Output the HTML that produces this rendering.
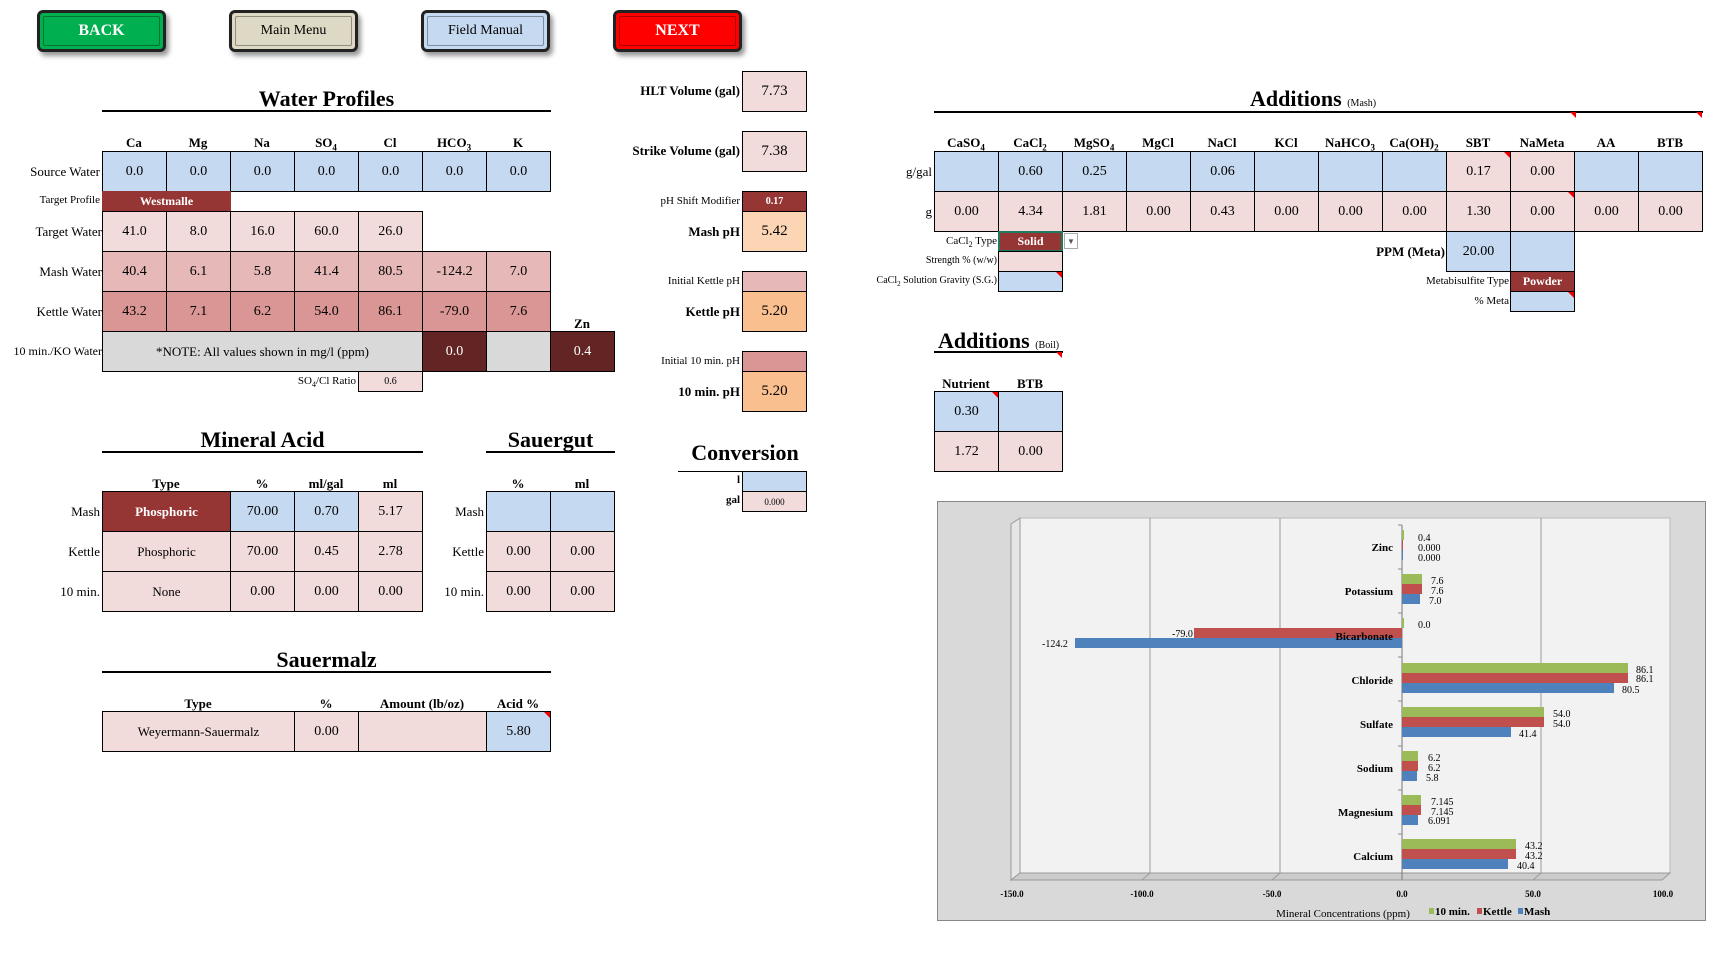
<!DOCTYPE html>
<html><head><meta charset="utf-8"><style>
body{margin:0;width:1730px;height:957px;background:#fff;position:relative;overflow:hidden;font-family:"Liberation Serif",serif;}
div{position:absolute;box-sizing:border-box;}
.c{border:1px solid #000;display:flex;align-items:center;justify-content:center;font-size:14px;width:65px;height:41px;}
.s{height:21px;font-size:11px;}
.b{background:#c5d9f1}.p{background:#f2dcdb}.m{background:#e6b8b7}.k{background:#da9694}.d{background:#963634;color:#fff;font-weight:bold}.dd{background:#632523;color:#fff}.g{background:#d9d9d9}.pe{background:#fcd5b4}.o{background:#fabf8f}
.h{font-weight:bold;font-size:13px;text-align:center;width:64px;}
.l{text-align:right;font-size:13px;white-space:nowrap;}
.t{font-size:22px;font-weight:bold;text-align:center;white-space:nowrap;}
.u{height:2px;background:#000;}
.btn{border:3px solid #222;border-radius:6px;box-shadow:3px 4px 5px #999;display:flex;align-items:center;justify-content:center;font-size:14px;width:129px;height:42px;}
.btn span{border:1px solid rgba(0,0,0,.35);position:absolute;left:3px;right:3px;top:3px;bottom:3px;border-radius:2px;}
.tri{width:0;height:0;border-top:6px solid #e00;border-left:6px solid transparent;}
</style></head><body>

<div class="btn" style="left:37px;top:10px;background:#00b050;color:#fff;font-weight:bold;font-size:16px"><span></span>BACK</div>
<div class="btn" style="left:229px;top:10px;background:#ddd9c4">Main Menu<span></span></div>
<div class="btn" style="left:421px;top:10px;background:#c5d9f1">Field Manual<span></span></div>
<div class="btn" style="left:613px;top:10px;background:#ff0000;color:#fff;font-weight:bold;font-size:16px">NEXT<span></span></div>

<div class="t" style="left:102px;width:449px;top:86px">Water Profiles</div>
<div class="u" style="left:102px;width:449px;top:110px"></div>
<div class="h" style="left:102px;top:135px">Ca</div><div class="h" style="left:166px;top:135px">Mg</div><div class="h" style="left:230px;top:135px">Na</div><div class="h" style="left:294px;top:135px">SO<sub style="font-size:9px">4</sub></div><div class="h" style="left:358px;top:135px">Cl</div><div class="h" style="left:422px;top:135px">HCO<sub style="font-size:9px">3</sub></div><div class="h" style="left:486px;top:135px">K</div>
<div class="l" style="right:1630px;top:164px">Source Water</div>
<div class="c b" style="left:102px;top:151px">0.0</div><div class="c b" style="left:166px;top:151px">0.0</div><div class="c b" style="left:230px;top:151px">0.0</div><div class="c b" style="left:294px;top:151px">0.0</div><div class="c b" style="left:358px;top:151px">0.0</div><div class="c b" style="left:422px;top:151px">0.0</div><div class="c b" style="left:486px;top:151px">0.0</div>
<div class="l" style="right:1630px;top:194px;font-size:11px">Target Profile</div>
<div class="c d s" style="left:102px;top:191px;width:129px;border:none;font-size:12px">Westmalle</div>
<div class="l" style="right:1628px;top:224px">Target Water</div>
<div class="c p" style="left:102px;top:211px">41.0</div><div class="c p" style="left:166px;top:211px">8.0</div><div class="c p" style="left:230px;top:211px">16.0</div><div class="c p" style="left:294px;top:211px">60.0</div><div class="c p" style="left:358px;top:211px">26.0</div>
<div class="l" style="right:1628px;top:264px">Mash Water</div>
<div class="c m" style="left:102px;top:251px">40.4</div><div class="c m" style="left:166px;top:251px">6.1</div><div class="c m" style="left:230px;top:251px">5.8</div><div class="c m" style="left:294px;top:251px">41.4</div><div class="c m" style="left:358px;top:251px">80.5</div><div class="c m" style="left:422px;top:251px">-124.2</div><div class="c m" style="left:486px;top:251px">7.0</div>
<div class="l" style="right:1628px;top:304px">Kettle Water</div>
<div class="c k" style="left:102px;top:291px">43.2</div><div class="c k" style="left:166px;top:291px">7.1</div><div class="c k" style="left:230px;top:291px">6.2</div><div class="c k" style="left:294px;top:291px">54.0</div><div class="c k" style="left:358px;top:291px">86.1</div><div class="c k" style="left:422px;top:291px">-79.0</div><div class="c k" style="left:486px;top:291px">7.6</div>
<div class="h" style="left:550px;top:316px">Zn</div>
<div class="l" style="right:1628px;top:344px;font-size:12px">10 min./KO Water</div>
<div class="c g" style="left:102px;top:331px;width:321px;font-size:13px">*NOTE: All values shown in mg/l (ppm)</div>
<div class="c dd" style="left:422px;top:331px">0.0</div><div class="c g" style="left:486px;top:331px">&nbsp;</div><div class="c dd" style="left:550px;top:331px">0.4</div>
<div class="l" style="right:1374px;top:375px;font-size:11px">SO<sub style="font-size:8px">4</sub>/Cl Ratio</div>
<div class="c p s" style="left:358px;top:371px;font-size:10px">0.6</div>

<div class="l" style="right:990px;top:83px;font-weight:bold">HLT Volume (gal)</div>
<div class="c p" style="left:742px;top:71px;font-size:15px">7.73</div>
<div class="l" style="right:990px;top:143px;font-weight:bold">Strike Volume (gal)</div>
<div class="c p" style="left:742px;top:131px;font-size:15px">7.38</div>
<div class="l" style="right:990px;top:195px;font-size:11px">pH Shift Modifier</div>
<div class="c d s" style="left:742px;top:191px;font-size:10px">0.17</div>
<div class="l" style="right:990px;top:224px;font-weight:bold">Mash pH</div>
<div class="c pe" style="left:742px;top:211px;font-size:15px">5.42</div>
<div class="l" style="right:990px;top:275px;font-size:11px">Initial Kettle pH</div>
<div class="c m s" style="left:742px;top:271px"></div>
<div class="l" style="right:990px;top:304px;font-weight:bold">Kettle pH</div>
<div class="c o" style="left:742px;top:291px;font-size:15px">5.20</div>
<div class="l" style="right:990px;top:355px;font-size:11px">Initial 10 min. pH</div>
<div class="c k s" style="left:742px;top:351px"></div>
<div class="l" style="right:990px;top:384px;font-weight:bold">10 min. pH</div>
<div class="c o" style="left:742px;top:371px;font-size:15px">5.20</div>

<div class="t" style="left:102px;width:321px;top:427px">Mineral Acid</div>
<div class="u" style="left:102px;width:321px;top:451px"></div>
<div class="h" style="left:134px;top:476px">Type</div><div class="h" style="left:230px;top:476px">%</div><div class="h" style="left:294px;top:476px">ml/gal</div><div class="h" style="left:358px;top:476px">ml</div>
<div class="l" style="right:1630px;top:504px">Mash</div><div class="l" style="right:1630px;top:544px">Kettle</div><div class="l" style="right:1630px;top:584px">10 min.</div>
<div class="c d" style="left:102px;top:491px;width:129px;font-size:13px">Phosphoric</div><div class="c b" style="left:230px;top:491px">70.00</div><div class="c b" style="left:294px;top:491px">0.70</div><div class="c p" style="left:358px;top:491px">5.17</div>
<div class="c p" style="left:102px;top:531px;width:129px;font-size:13px">Phosphoric</div><div class="c p" style="left:230px;top:531px">70.00</div><div class="c p" style="left:294px;top:531px">0.45</div><div class="c p" style="left:358px;top:531px">2.78</div>
<div class="c p" style="left:102px;top:571px;width:129px;font-size:13px">None</div><div class="c p" style="left:230px;top:571px">0.00</div><div class="c p" style="left:294px;top:571px">0.00</div><div class="c p" style="left:358px;top:571px">0.00</div>

<div class="t" style="left:486px;width:129px;top:427px">Sauergut</div>
<div class="u" style="left:486px;width:129px;top:451px"></div>
<div class="h" style="left:486px;top:476px">%</div><div class="h" style="left:550px;top:476px">ml</div>
<div class="l" style="right:1246px;top:504px">Mash</div><div class="l" style="right:1246px;top:544px">Kettle</div><div class="l" style="right:1246px;top:584px">10 min.</div>
<div class="c b" style="left:486px;top:491px"></div><div class="c b" style="left:550px;top:491px"></div>
<div class="c p" style="left:486px;top:531px">0.00</div><div class="c p" style="left:550px;top:531px">0.00</div>
<div class="c p" style="left:486px;top:571px">0.00</div><div class="c p" style="left:550px;top:571px">0.00</div>

<div class="t" style="left:670px;width:150px;top:440px">Conversion</div>
<div class="u" style="left:678px;width:65px;top:471px;height:1px"></div>
<div class="l" style="right:990px;top:474px;font-size:11px;font-weight:bold">l</div>
<div class="l" style="right:990px;top:494px;font-size:11px;font-weight:bold">gal</div>
<div class="c b s" style="left:742px;top:471px"></div>
<div class="c p s" style="left:742px;top:491px;font-size:9px">0.000</div>

<div class="t" style="left:102px;width:449px;top:647px">Sauermalz</div>
<div class="u" style="left:102px;width:449px;top:671px"></div>
<div class="h" style="left:166px;top:696px">Type</div><div class="h" style="left:294px;top:696px">%</div><div class="h" style="left:358px;top:696px;width:128px">Amount (lb/oz)</div><div class="h" style="left:486px;top:696px">Acid %</div>
<div class="c p" style="left:102px;top:711px;width:193px;font-size:13px">Weyermann-Sauermalz</div><div class="c p" style="left:294px;top:711px">0.00</div><div class="c p" style="left:358px;top:711px;width:129px"></div><div class="c b" style="left:486px;top:711px">5.80</div>
<div class="tri" style="left:544px;top:712px"></div>

<div class="t" style="left:1250px;top:86px;text-align:left">Additions <span style="font-size:10px;font-weight:normal">(Mash)</span></div>
<div class="u" style="left:934px;width:769px;top:111px"></div>
<div class="tri" style="left:1570px;top:112px"></div><div class="tri" style="left:1696px;top:112px"></div>
<div class="h" style="left:934px;top:135px">CaSO<sub style="font-size:9px">4</sub></div><div class="h" style="left:998px;top:135px">CaCl<sub style="font-size:9px">2</sub></div><div class="h" style="left:1062px;top:135px">MgSO<sub style="font-size:9px">4</sub></div><div class="h" style="left:1126px;top:135px">MgCl</div><div class="h" style="left:1190px;top:135px">NaCl</div><div class="h" style="left:1254px;top:135px">KCl</div><div class="h" style="left:1318px;top:135px">NaHCO<sub style="font-size:9px">3</sub></div><div class="h" style="left:1382px;top:135px">Ca(OH)<sub style="font-size:9px">2</sub></div><div class="h" style="left:1446px;top:135px">SBT</div><div class="h" style="left:1510px;top:135px">NaMeta</div><div class="h" style="left:1574px;top:135px">AA</div><div class="h" style="left:1638px;top:135px">BTB</div>
<div class="l" style="right:798px;top:164px">g/gal</div>
<div class="c b" style="left:934px;top:151px"></div><div class="c b" style="left:998px;top:151px">0.60</div><div class="c b" style="left:1062px;top:151px">0.25</div><div class="c b" style="left:1126px;top:151px"></div><div class="c b" style="left:1190px;top:151px">0.06</div><div class="c b" style="left:1254px;top:151px"></div><div class="c b" style="left:1318px;top:151px"></div><div class="c b" style="left:1382px;top:151px"></div><div class="c p" style="left:1446px;top:151px">0.17</div><div class="c p" style="left:1510px;top:151px">0.00</div><div class="c b" style="left:1574px;top:151px"></div><div class="c b" style="left:1638px;top:151px"></div>
<div class="l" style="right:798px;top:204px">g</div>
<div class="c p" style="left:934px;top:191px">0.00</div><div class="c p" style="left:998px;top:191px">4.34</div><div class="c p" style="left:1062px;top:191px">1.81</div><div class="c p" style="left:1126px;top:191px">0.00</div><div class="c p" style="left:1190px;top:191px">0.43</div><div class="c p" style="left:1254px;top:191px">0.00</div><div class="c p" style="left:1318px;top:191px">0.00</div><div class="c p" style="left:1382px;top:191px">0.00</div><div class="c p" style="left:1446px;top:191px">1.30</div><div class="c p" style="left:1510px;top:191px">0.00</div><div class="c p" style="left:1574px;top:191px">0.00</div><div class="c p" style="left:1638px;top:191px">0.00</div>
<div class="tri" style="left:1504px;top:152px"></div><div class="tri" style="left:1568px;top:192px"></div>
<div class="l" style="right:733px;top:235px;font-size:11px">CaCl<sub style="font-size:8px">2</sub> Type</div>
<div class="c d s" style="left:998px;top:231px;border:2px solid #1d7a5f;font-size:12px">Solid</div>
<div style="left:1064px;top:233px;width:14px;height:16px;border:1px solid #aaa;background:#fff;font-size:8px;color:#555;text-align:center;line-height:15px">▼</div>
<div class="l" style="right:733px;top:255px;font-size:10px">Strength % (w/w)</div>
<div class="c p s" style="left:998px;top:251px"></div>
<div class="l" style="right:733px;top:275px;font-size:10px">CaCl<sub style="font-size:7px">2</sub> Solution Gravity (S.G.)</div>
<div class="c b s" style="left:998px;top:271px"></div>
<div class="tri" style="left:1056px;top:272px"></div>
<div class="l" style="right:285px;top:244px;font-weight:bold">PPM (Meta)</div>
<div class="c b" style="left:1446px;top:231px">20.00</div><div class="c b" style="left:1510px;top:231px"></div>
<div class="l" style="right:221px;top:275px;font-size:11px">Metabisulfite Type</div>
<div class="c d s" style="left:1510px;top:271px;font-size:12px">Powder</div>
<div class="l" style="right:221px;top:295px;font-size:11px">% Meta</div>
<div class="c b s" style="left:1510px;top:291px"></div>
<div class="tri" style="left:1568px;top:292px"></div>

<div class="t" style="left:938px;top:328px;text-align:left">Additions <span style="font-size:10px;font-weight:normal">(Boil)</span></div>
<div class="u" style="left:934px;width:129px;top:351px"></div>
<div class="tri" style="left:1056px;top:352px"></div>
<div class="h" style="left:934px;top:376px">Nutrient</div><div class="h" style="left:998px;top:376px">BTB</div>
<div class="c b" style="left:934px;top:391px">0.30</div><div class="c b" style="left:998px;top:391px"></div>
<div class="c p" style="left:934px;top:431px">1.72</div><div class="c p" style="left:998px;top:431px">0.00</div>
<div class="tri" style="left:992px;top:392px"></div>

<div style="left:937px;top:501px;width:769px;height:420px;background:#d9d9d9;border:1px solid #888"></div>
<svg style="position:absolute;left:0;top:0" width="1730" height="957">
<polygon points="1011,524 1020,518 1670,518 1662,524" fill="#e8e8e8"/>
<rect x="1020" y="518" width="650" height="355" fill="#f2f2f2" stroke="#bbb"/>
<polygon points="1011,524 1020,518 1020,873 1011,880" fill="#e6e6e6" stroke="#999"/>
<polygon points="1011,880 1020,873 1670,873 1662,880" fill="#ccc" stroke="#999"/>
<g stroke="#999" stroke-width="1">
<line x1="1150" y1="518" x2="1150" y2="873"/><line x1="1280" y1="518" x2="1280" y2="873"/><line x1="1541" y1="518" x2="1541" y2="873"/>
<line x1="1142" y1="880" x2="1150" y2="873"/><line x1="1272" y1="880" x2="1280" y2="873"/><line x1="1533" y1="880" x2="1541" y2="873"/>
<line x1="1402" y1="525" x2="1402" y2="880" stroke="#777"/>
<line x1="1011" y1="880" x2="1662" y2="880"/>
</g>
<g stroke="#888"><line x1="1398" y1="525" x2="1402" y2="525"/><line x1="1398" y1="569" x2="1402" y2="569"/><line x1="1398" y1="613" x2="1402" y2="613"/><line x1="1398" y1="657" x2="1402" y2="657"/><line x1="1398" y1="701" x2="1402" y2="701"/><line x1="1398" y1="746" x2="1402" y2="746"/><line x1="1398" y1="790" x2="1402" y2="790"/><line x1="1398" y1="834" x2="1402" y2="834"/></g>
<g>
<rect x="1402" y="530" width="2" height="10" fill="#9bbb59"/><rect x="1402" y="540" width="1" height="10" fill="#c0504d"/><rect x="1402" y="550" width="1" height="10" fill="#4f81bd"/>
<rect x="1402" y="574" width="20" height="10" fill="#9bbb59"/><rect x="1402" y="584" width="20" height="10" fill="#c0504d"/><rect x="1402" y="594" width="18" height="10" fill="#4f81bd"/>
<rect x="1402" y="618" width="2" height="10" fill="#9bbb59"/><rect x="1194" y="628" width="208" height="10" fill="#c0504d"/><rect x="1075" y="638" width="327" height="10" fill="#4f81bd"/>
<rect x="1402" y="663" width="226" height="10" fill="#9bbb59"/><rect x="1402" y="673" width="226" height="10" fill="#c0504d"/><rect x="1402" y="683" width="212" height="10" fill="#4f81bd"/>
<rect x="1402" y="707" width="142" height="10" fill="#9bbb59"/><rect x="1402" y="717" width="142" height="10" fill="#c0504d"/><rect x="1402" y="727" width="109" height="10" fill="#4f81bd"/>
<rect x="1402" y="751" width="16" height="10" fill="#9bbb59"/><rect x="1402" y="761" width="16" height="10" fill="#c0504d"/><rect x="1402" y="771" width="15" height="10" fill="#4f81bd"/>
<rect x="1402" y="795" width="19" height="10" fill="#9bbb59"/><rect x="1402" y="805" width="19" height="10" fill="#c0504d"/><rect x="1402" y="815" width="16" height="10" fill="#4f81bd"/>
<rect x="1402" y="839" width="114" height="10" fill="#9bbb59"/><rect x="1402" y="849" width="114" height="10" fill="#c0504d"/><rect x="1402" y="859" width="106" height="10" fill="#4f81bd"/>
</g>
<g font-family="Liberation Serif" font-size="10" fill="#000">
<text x="1418" y="541">0.4</text><text x="1418" y="551">0.000</text><text x="1418" y="561">0.000</text>
<text x="1431" y="584">7.6</text><text x="1431" y="594">7.6</text><text x="1429" y="604">7.0</text>
<text x="1418" y="628">0.0</text><text x="1172" y="637">-79.0</text><text x="1042" y="647">-124.2</text>
<text x="1636" y="673">86.1</text><text x="1636" y="682">86.1</text><text x="1622" y="693">80.5</text>
<text x="1553" y="717">54.0</text><text x="1553" y="727">54.0</text><text x="1519" y="737">41.4</text>
<text x="1428" y="761">6.2</text><text x="1428" y="771">6.2</text><text x="1426" y="781">5.8</text>
<text x="1431" y="805">7.145</text><text x="1431" y="815">7.145</text><text x="1428" y="824">6.091</text>
<text x="1525" y="849">43.2</text><text x="1525" y="859">43.2</text><text x="1517" y="869">40.4</text>
</g>
<g font-family="Liberation Serif" font-size="11" font-weight="bold" text-anchor="end">
<text x="1393" y="551">Zinc</text><text x="1393" y="595">Potassium</text><text x="1393" y="640">Bicarbonate</text><text x="1393" y="684">Chloride</text><text x="1393" y="728">Sulfate</text><text x="1393" y="772">Sodium</text><text x="1393" y="816">Magnesium</text><text x="1393" y="860">Calcium</text>
</g>
<g font-family="Liberation Serif" font-size="9" font-weight="bold" text-anchor="middle">
<text x="1012" y="897">-150.0</text><text x="1142" y="897">-100.0</text><text x="1272" y="897">-50.0</text><text x="1402" y="897">0.0</text><text x="1533" y="897">50.0</text><text x="1663" y="897">100.0</text>
</g>
<text x="1343" y="917" font-family="Liberation Serif" font-size="11" text-anchor="middle">Mineral Concentrations (ppm)</text>
<rect x="1429" y="908" width="5" height="6" fill="#9bbb59"/><text x="1435" y="915" font-family="Liberation Serif" font-size="11" font-weight="bold">10 min.</text>
<rect x="1477" y="908" width="5" height="6" fill="#c0504d"/><text x="1483" y="915" font-family="Liberation Serif" font-size="11" font-weight="bold">Kettle</text>
<rect x="1518" y="908" width="5" height="6" fill="#4f81bd"/><text x="1524" y="915" font-family="Liberation Serif" font-size="11" font-weight="bold">Mash</text>
</svg>
</body></html>
